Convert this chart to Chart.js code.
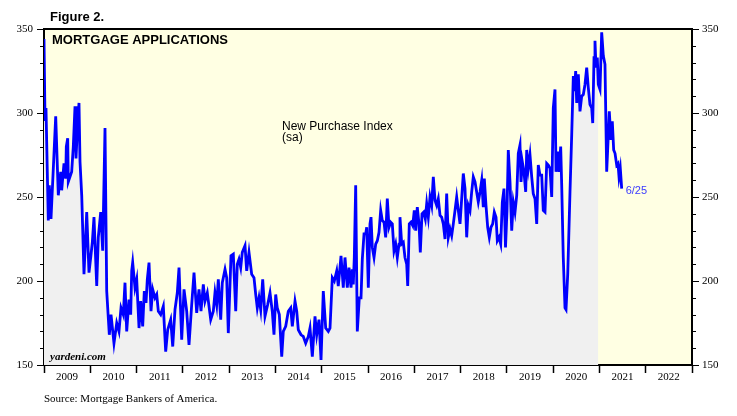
<!DOCTYPE html>
<html>
<head>
<meta charset="utf-8">
<script src="https://cdn.jsdelivr.net/npm/chart.js@4"></script>
<style>
  body { margin: 0; background: #fff; }
  #wrap { width: 737px; height: 416px; }
</style>
</head>
<body>
<div id="wrap"><canvas id="myChart" width="737" height="416"></canvas></div>
<script>
// weekly MBA purchase index (dates as decimal years)
const dates = [
  2009.000, 2009.022, 2009.043, 2009.093, 2009.115, 2009.151, 2009.201, 2009.253, 2009.309, 2009.361,
  2009.382, 2009.432, 2009.469, 2009.482, 2009.512, 2009.525, 2009.598, 2009.633, 2009.670, 2009.691,
  2009.719, 2009.756, 2009.778, 2009.815, 2009.864, 2009.923, 2009.972, 2010.009, 2010.044, 2010.080,
  2010.139, 2010.173, 2010.225, 2010.268, 2010.318, 2010.355, 2010.411, 2010.448, 2010.512, 2010.571,
  2010.620, 2010.664, 2010.713, 2010.750, 2010.787, 2010.836, 2010.873, 2010.895, 2010.916, 2010.966,
  2011.003, 2011.053, 2011.089, 2011.132, 2011.167, 2011.204, 2011.232, 2011.269, 2011.312, 2011.349,
  2011.398, 2011.435, 2011.470, 2011.521, 2011.578, 2011.629, 2011.673, 2011.737, 2011.781, 2011.830,
  2011.880, 2011.917, 2011.975, 2012.025, 2012.083, 2012.133, 2012.191, 2012.241, 2012.299, 2012.349,
  2012.392, 2012.442, 2012.478, 2012.528, 2012.602, 2012.658, 2012.694, 2012.731, 2012.766, 2012.818,
  2012.852, 2012.911, 2012.947, 2012.982, 2013.040, 2013.090, 2013.142, 2013.176, 2013.213, 2013.250,
  2013.284, 2013.343, 2013.379, 2013.429, 2013.487, 2013.537, 2013.574, 2013.608, 2013.645, 2013.682,
  2013.725, 2013.775, 2013.833, 2013.883, 2013.932, 2013.969, 2014.006, 2014.040, 2014.084, 2014.136,
  2014.170, 2014.222, 2014.278, 2014.330, 2014.365, 2014.423, 2014.460, 2014.494, 2014.553, 2014.602,
  2014.654, 2014.710, 2014.747, 2014.797, 2014.855, 2014.892, 2014.941, 2014.985, 2015.034, 2015.086,
  2015.142, 2015.179, 2015.229, 2015.272, 2015.324, 2015.358, 2015.417, 2015.466, 2015.503, 2015.553,
  2015.590, 2015.633, 2015.661, 2015.682, 2015.704, 2015.734, 2015.769, 2015.812, 2015.849, 2015.877,
  2015.914, 2015.950, 2015.972, 2016.007, 2016.043, 2016.065, 2016.093, 2016.130, 2016.166, 2016.201,
  2016.238, 2016.274, 2016.309, 2016.346, 2016.382, 2016.417, 2016.454, 2016.490, 2016.525, 2016.562,
  2016.598, 2016.633, 2016.670, 2016.691, 2016.728, 2016.763, 2016.799, 2016.836, 2016.858, 2016.892,
  2016.929, 2016.966, 2017.000, 2017.031, 2017.065, 2017.102, 2017.130, 2017.167, 2017.203, 2017.238,
  2017.268, 2017.303, 2017.340, 2017.376, 2017.411, 2017.448, 2017.484, 2017.519, 2017.556, 2017.592,
  2017.627, 2017.664, 2017.700, 2017.735, 2017.772, 2017.808, 2017.843, 2017.880, 2017.916, 2017.951,
  2017.988, 2018.024, 2018.059, 2018.096, 2018.132, 2018.167, 2018.204, 2018.240, 2018.275, 2018.312,
  2018.348, 2018.383, 2018.420, 2018.457, 2018.491, 2018.513, 2018.549, 2018.586, 2018.621, 2018.657,
  2018.694, 2018.729, 2018.766, 2018.794, 2018.830, 2018.867, 2018.902, 2018.938, 2018.971, 2019.003,
  2019.031, 2019.068, 2019.105, 2019.139, 2019.176, 2019.213, 2019.247, 2019.284, 2019.306, 2019.334,
  2019.370, 2019.407, 2019.429, 2019.463, 2019.500, 2019.537, 2019.571, 2019.608, 2019.645, 2019.679,
  2019.716, 2019.753, 2019.787, 2019.824, 2019.861, 2019.895, 2019.932, 2019.969, 2020.003, 2020.040,
  2020.062, 2020.098, 2020.127, 2020.163, 2020.185, 2020.219, 2020.256, 2020.278, 2020.315, 2020.364,
  2020.401, 2020.436, 2020.457, 2020.487, 2020.509, 2020.544, 2020.580, 2020.617, 2020.652, 2020.688,
  2020.725, 2020.760, 2020.796, 2020.833, 2020.855, 2020.883, 2020.904, 2020.926, 2020.954, 2020.976,
  2021.012, 2021.049, 2021.084, 2021.120, 2021.157, 2021.192, 2021.213, 2021.250, 2021.278, 2021.308,
  2021.337, 2021.373, 2021.401, 2021.423, 2021.451, 2021.481
];

const purchase = [
  344, 296, 303, 236, 257, 237, 267, 298, 251, 265,
  254, 270, 261, 280, 285, 259, 265, 280, 304, 273,
  289, 306, 271, 251, 204, 241, 205, 214, 223, 238,
  197, 226, 241, 218, 291, 194, 168, 180, 163, 175,
  170, 184, 180, 199, 170, 189, 180, 206, 211, 196,
  201, 172, 188, 173, 194, 187, 201, 211, 182, 195,
  190, 192, 182, 180, 185, 158, 171, 177, 161, 183,
  193, 208, 165, 195, 182, 162, 186, 205, 181, 195,
  182, 198, 188, 193, 177, 182, 193, 186, 201, 177,
  199, 207, 202, 169, 215, 216, 182, 210, 213, 208,
  217, 221, 206, 217, 204, 202, 192, 184, 190, 183,
  201, 179, 186, 193, 182, 168, 192, 184, 180, 155,
  170, 173, 182, 184, 173, 188, 182, 171, 168, 167,
  163, 167, 172, 155, 179, 168, 177, 153, 194, 172,
  170, 172, 202, 200, 206, 197, 215, 196, 214, 196,
  208, 196, 207, 198, 214, 257, 170, 190, 190, 213,
  228, 228, 232, 196, 234, 238, 220, 214, 222, 224,
  229, 242, 236, 235, 226, 249, 232, 235, 234, 218,
  222, 214, 222, 238, 222, 223, 214, 210, 197, 234,
  235, 233, 242, 230, 244, 234, 217, 240, 241, 237,
  246, 238, 250, 245, 262, 248, 245, 249, 239, 238,
  234, 225, 252, 226, 231, 227, 234, 242, 250, 242,
  234, 249, 264, 255, 226, 245, 242, 253, 262, 259,
  253, 247, 253, 260, 244, 261, 245, 232, 226, 232,
  234, 241, 238, 224, 226, 222, 247, 255, 220, 242,
  278, 259, 230, 247, 241, 251, 276, 281, 259, 271,
  265, 253, 278, 267, 275, 262, 252, 249, 234, 269,
  263, 263, 242, 241, 270, 269, 267, 250, 303, 314,
  265, 277, 265, 280, 257, 214, 184, 183, 204, 253,
  287, 322, 313, 325, 306, 323, 301, 310, 311, 317,
  327, 315, 305, 303, 294, 333, 343, 327, 333, 317,
  314, 348, 334, 329, 265, 287, 301, 284, 295, 278,
  276, 269, 270, 262, 267, 255
];

const years = ['2009', '2010', '2011', '2012', '2013', '2014', '2015',
               '2016', '2017', '2018', '2019', '2020', '2021', '2022'];
const shadedUntil = 2021.0;   // grey area stops at the start of 2021
const lastLabel = '6/25';

const points = dates.map((d, i) => ({ x: d, y: purchase[i] }));
const shaded = points.filter(p => p.x <= shadedUntil);

const serif = "'Liberation Serif', 'Times New Roman', serif";
const sans = "'Liberation Sans', Arial, sans-serif";

const framePlugin = {
  id: 'frame',
  beforeDraw(chart) {
    const a = chart.chartArea;
    const c = chart.ctx;
    c.save();
    c.fillStyle = '#ffffe3';
    c.fillRect(a.left, a.top, a.right - a.left, a.bottom - a.top);
    c.restore();
  },
  afterDraw(chart) {
    const a = chart.chartArea;
    const c = chart.ctx;
    c.save();
    // top border
    c.strokeStyle = '#000';
    c.lineWidth = 2;
    c.beginPath();
    c.moveTo(a.left, a.top);
    c.lineTo(a.right, a.top);
    c.stroke();

    // minor ticks every 10 on both value axes
    c.lineWidth = 1;
    ['y', 'y2'].forEach(id => {
      const s = chart.scales[id];
      for (let v = s.min; v <= s.max; v += 10) {
        if (v % 50 === 0) continue;
        const py = Math.round(s.getPixelForValue(v)) + 0.5;
        c.beginPath();
        if (id === 'y') { c.moveTo(a.left, py); c.lineTo(a.left - 4, py); }
        else { c.moveTo(a.right, py); c.lineTo(a.right + 4, py); }
        c.stroke();
      }
    });

    // texts
    c.fillStyle = '#000';
    c.textBaseline = 'alphabetic';
    c.font = 'bold 13px ' + sans;
    c.fillText('Figure 2.', 50, 21);
    c.fillText('MORTGAGE APPLICATIONS', 52, 44);
    c.font = '12px ' + sans;
    c.fillText('New Purchase Index', 282, 130);
    c.fillText('(sa)', 282, 141);
    c.font = 'italic bold 11px ' + serif;
    c.fillText('yardeni.com', 50, 360);
    c.font = '11px ' + serif;
    c.fillText('Source: Mortgage Bankers of America.', 44, 402);

    const xs = chart.scales.x, ys = chart.scales.y;
    const last = points[points.length - 1];
    c.fillStyle = '#3a3aff';
    c.font = '11px ' + sans;
    c.fillText(lastLabel, xs.getPixelForValue(last.x) + 4, ys.getPixelForValue(last.y) + 5);
    c.restore();
  }
};

const yAxis = (side) => ({
  type: 'linear',
  position: side,
  min: 150,
  max: 350,
  ticks: {
    stepSize: 10,
    autoSkip: false,
    padding: side === 'left' ? 4 : 3,
    color: '#000',
    font: { family: serif, size: 11 },
    callback: v => (v % 50 === 0 ? String(v) : '')
  },
  grid: {
    drawOnChartArea: false,
    tickLength: 7,
    tickWidth: 1,
    tickColor: ctx => (ctx.tick && ctx.tick.value % 50 === 0 ? '#000' : 'rgba(0,0,0,0)')
  },
  border: { color: '#000', width: 2 },
  afterFit: s => { s.width = side === 'left' ? 44 : 45; }
});

const chart = new Chart(document.getElementById('myChart'), {
  type: 'line',
  data: {
    datasets: [
      {
        label: 'shade',
        data: shaded,
        borderWidth: 0,
        backgroundColor: '#f0f0f0',
        fill: 'start',
        pointRadius: 0,
        order: 2
      },
      {
        label: 'New Purchase Index',
        data: points,
        borderColor: '#0000ff',
        borderWidth: 2.8,
        fill: false,
        pointRadius: 0,
        tension: 0,
        order: 1
      }
    ]
  },
  options: {
    responsive: false,
    animation: false,
    devicePixelRatio: 1,
    layout: { padding: { top: 29, left: 0, right: 0, bottom: 0 } },
    plugins: { legend: { display: false }, tooltip: { enabled: false } },
    scales: {
      x: {
        type: 'linear',
        position: 'bottom',
        min: 2009,
        max: 2023,
        ticks: {
          stepSize: 1,
          autoSkip: false,
          maxRotation: 0,
          labelOffset: 23.1,
          padding: -2,
          color: '#000',
          font: { family: serif, size: 11 },
          callback: (v) => years[v - 2009] || ''
        },
        grid: { drawOnChartArea: false, tickLength: 8, tickWidth: 1.5, tickColor: '#000' },
        border: { color: '#000', width: 2 },
        afterFit: s => { s.height = 51; }
      },
      y: yAxis('left'),
      y2: yAxis('right')
    }
  },
  plugins: [framePlugin]
});
</script>
</body>
</html>
